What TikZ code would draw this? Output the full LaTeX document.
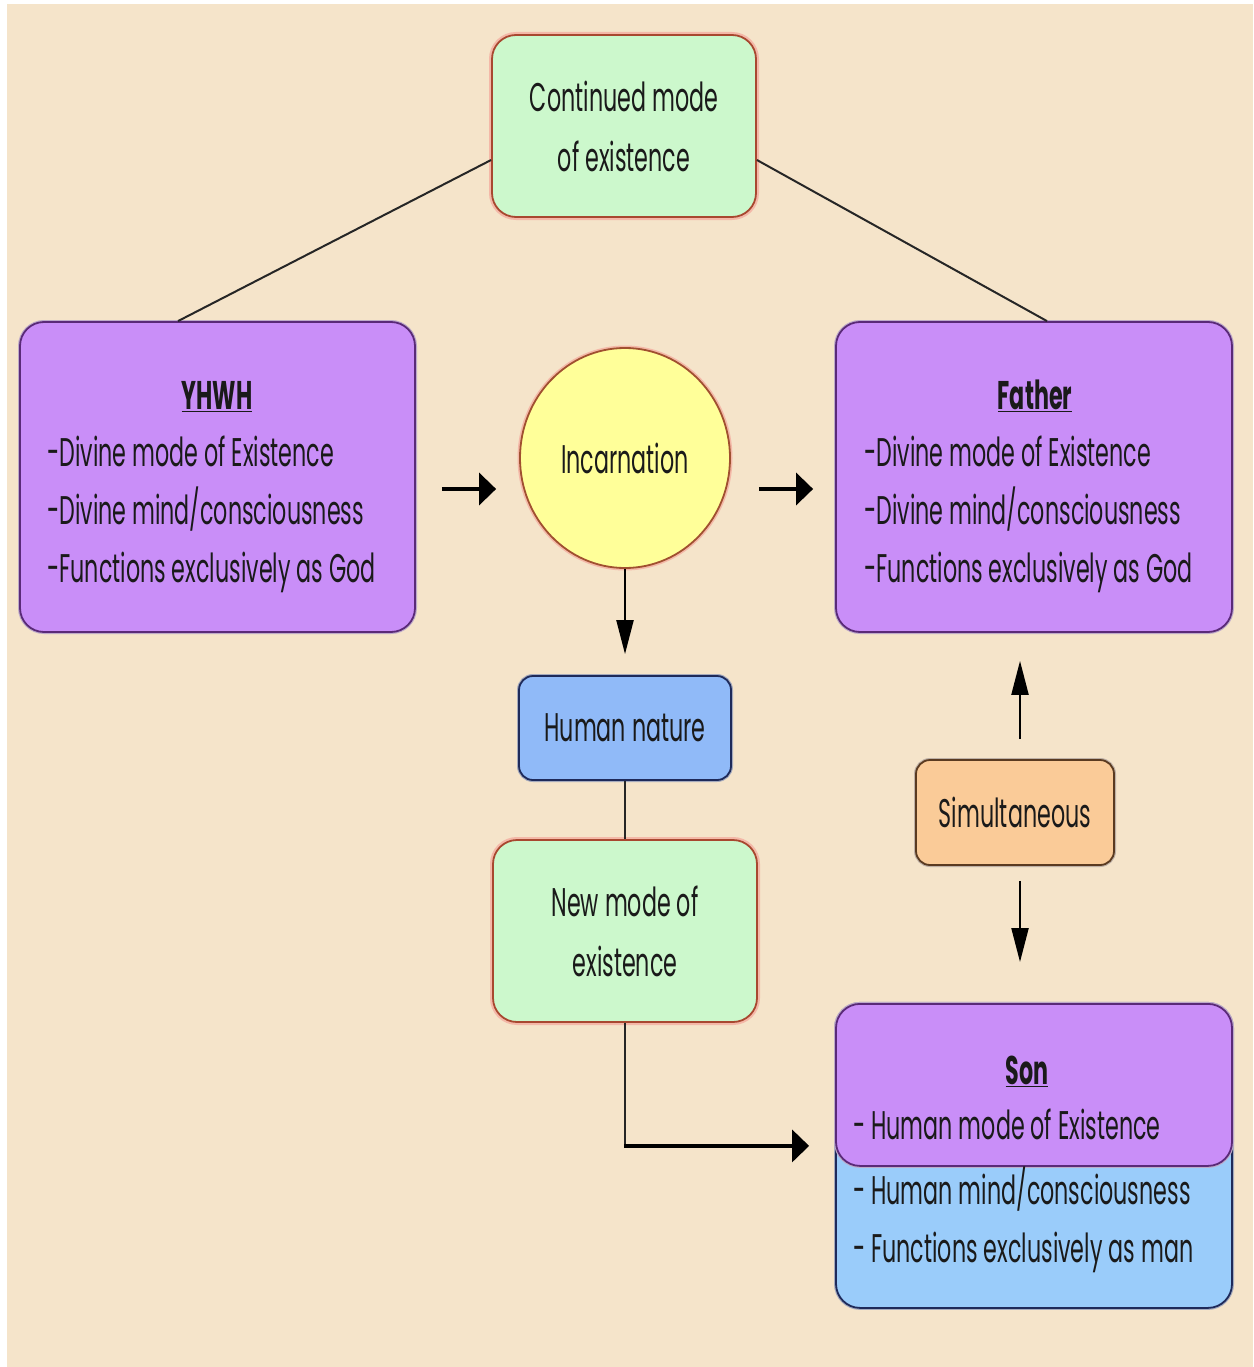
\documentclass[tikz,border=0pt]{standalone}
\usepackage{fontspec}
\setmainfont{Poppins}[FakeStretch=0.555]
\usetikzlibrary{arrows.meta,calc,shapes.geometric}
\definecolor{bg}{HTML}{F5E4CA}
\definecolor{greenfill}{HTML}{CCF8CC}
\definecolor{greenline}{HTML}{A84830}
\definecolor{greenglow}{HTML}{F4B8A8}
\definecolor{purplefill}{HTML}{C98EF8}
\definecolor{purpleline}{HTML}{5A2A78}
\definecolor{bluefill}{HTML}{9ACCFA}
\definecolor{humanfill}{HTML}{90BAF8}
\definecolor{blueline}{HTML}{1E2A5A}
\definecolor{yellowfill}{HTML}{FFFF99}
\definecolor{yellowline}{HTML}{A05030}
\definecolor{orangefill}{HTML}{FACB98}
\definecolor{orangeline}{HTML}{5A3A20}
\definecolor{ink}{HTML}{1A1A1A}
\tikzset{
  txt/.style={text=ink, font=\fontsize{40}{60}\selectfont, inner sep=0pt},
  base/.style={txt, rounded corners=24pt, line width=1.8pt},
  greenbox/.style={base, fill=greenfill, draw=greenline, preaction={draw=greenglow, line width=6pt}, align=center},
  purplebox/.style={base, fill=purplefill, draw=purpleline, preaction={draw=purpleline!40, line width=4pt}},
  bluebox/.style={base, fill=bluefill, draw=blueline, preaction={draw=blueline!40, line width=4pt}},
  line/.style={txt, anchor=mid west},
  title/.style={txt, anchor=mid, font=\fontsize{40}{58}\selectfont\bfseries},
  harr/.style={line width=3.5pt, draw=black, -{Triangle[length=17pt,width=32pt]}},
  varr/.style={line width=2.2pt, draw=black, -{Triangle[length=34pt,width=17pt]}},
  conn/.style={line width=2pt, draw=black!85},
}
\begin{document}
\begin{tikzpicture}[x=1pt,y=-1pt]
\useasboundingbox (0,0) rectangle (1253,1367);
\fill[white] (0,0) rectangle (1253,1367);
\fill[bg] (7,4) rectangle (1253,1367);

\node[greenbox, minimum width=264pt, minimum height=182pt] (top) at (624,126) {Continued mode\\of existence};

\node[purplebox, minimum width=395pt, minimum height=310pt] (yhwh) at (217.5,477) {};
\node[title] (yhwhT) at (217,407) {\underline{YHWH}};
\node[line] (yhwh1) at (47,464) {-Divine mode of Existence};
\node[line] (yhwh2) at (47,522) {-Divine mind/consciousness};
\node[line] (yhwh3) at (47,580) {-Functions exclusively as God};

\node[purplebox, minimum width=396pt, minimum height=310pt] (father) at (1034,477) {};
\node[title] (fatherT) at (1035,407) {\underline{Father}};
\node[line] (father1) at (864,464) {-Divine mode of Existence};
\node[line] (father2) at (864,522) {-Divine mind/consciousness};
\node[line] (father3) at (864,580) {-Functions exclusively as God};

\node[txt, ellipse, fill=yellowfill, draw=yellowline, line width=1.8pt, preaction={draw=greenglow, line width=5pt}, minimum width=210pt, minimum height=220pt] (inc) at (625,458) {Incarnation};

\node[base, fill=humanfill, draw=blueline, preaction={draw=blueline!40, line width=4pt}, rounded corners=14pt, minimum width=212pt, minimum height=104pt] (human) at (625,728) {Human nature};

\node[greenbox, minimum width=264pt, minimum height=182pt] (newmode) at (625,931) {New mode of\\existence};

\node[base, fill=orangefill, draw=orangeline, preaction={draw=orangeline!40, line width=4pt}, rounded corners=14pt, minimum width=198pt, minimum height=105pt] (simul) at (1015,812.5) {Simultaneous};

\node[bluebox, minimum width=396pt, minimum height=304pt, anchor=north] (sonblue) at (1034,1003) {};
\node[purplebox, minimum width=396pt, minimum height=162pt, anchor=north] (sonpurple) at (1034,1003) {};
\node[title] (sonT) at (1027,1082) {\underline{Son}};
\node[line] (son1) at (853,1137) {- Human mode of Existence};
\node[line] (son2) at (853,1202) {- Human mind/consciousness};
\node[line] (son3) at (853,1260) {- Functions exclusively as man};

% connectors
\draw[conn] ([yshift=-34pt]top.west) -- ([xshift=-39.5pt]yhwh.north);
\draw[conn] ([yshift=-34pt]top.east) -- ([xshift=13pt]father.north);

\coordinate (a1) at ($(yhwh.east)+(0,12)$);
\coordinate (a2) at (a1 -| inc.east);
\draw[harr, shorten <=26pt, shorten >=23pt] (a1) -- (a1 -| inc.west);
\draw[harr, shorten <=28pt, shorten >=22pt] (a2) -- (a2 -| father.west);

\draw[varr, shorten >=21pt] (inc.south) -- (human.north);
\draw[conn] (human.south) -- (newmode.north);

\coordinate (s1) at ($(sonblue.west)+(0,-10)$);
\coordinate (s0) at (newmode.south |- s1);
\draw[conn] (newmode.south) -- (s0);
\draw[harr, shorten >=26pt, shorten <=-1pt] (s0) -- (s1);

\coordinate (u1) at ($(simul.north)+(5,0)$);
\coordinate (d1) at ($(simul.south)+(5,0)$);
\draw[varr, shorten <=20pt, shorten >=28pt] (u1) -- (u1 |- father.south);
\draw[varr, shorten <=15pt, shorten >=41pt] (d1) -- (d1 |- sonblue.north);
\end{tikzpicture}
\end{document}
